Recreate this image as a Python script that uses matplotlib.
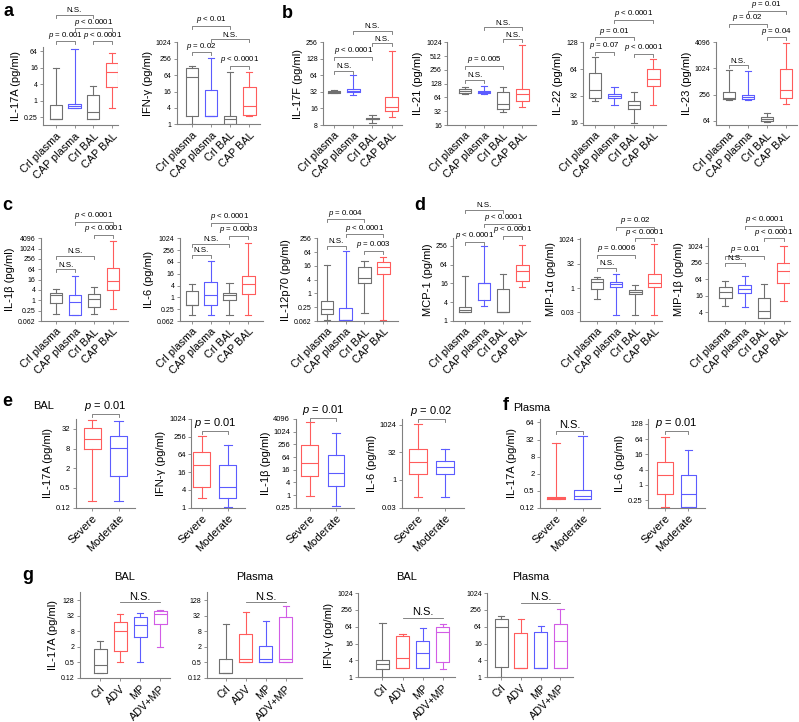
import matplotlib
matplotlib.use("Agg")
import matplotlib.pyplot as plt
from matplotlib.ticker import NullLocator
from matplotlib.transforms import blended_transform_factory

plt.rcParams['font.family'] = ['Liberation Sans', 'DejaVu Sans']
plt.rcParams['mathtext.fontset'] = 'custom'
plt.rcParams['mathtext.it'] = 'Liberation Sans:italic'
plt.rcParams['mathtext.rm'] = 'Liberation Sans'

# ---------------- data: (whisker low, Q1, median, Q3, whisker high) ----------------
groups4 = ['Crl plasma', 'CAP plasma', 'Crl BAL', 'CAP BAL']
groups_sev = ['Severe', 'Moderate']
groups_g = ['Crl', 'ADV', 'MP', 'ADV+MP']

a_il17a = [(0.21, 0.21, 0.21, 0.67, 15), (0.52, 0.52, 0.64, 0.76, 74),
           (0.21, 0.21, 0.375, 1.65, 3.3), (0.52, 3.0, 10.8, 23, 53)]
a_ifng = [(1.0, 2.1, 56, 120, 142), (2.1, 2.1, 2.1, 18, 265),
          (1.0, 1.0, 1.6, 2.0, 86), (2.0, 2.2, 4.7, 23, 86)]
b_il17f = [(30.5, 31, 32, 33, 34), (28.2, 31.3, 33.5, 36.3, 64.4),
           (8.8, 10.1, 10.3, 10.6, 12.2), (11.0, 14.6, 16.8, 26.3, 181)]
b_il21 = [(76, 80, 90, 100, 106), (75, 82, 84, 87, 114),
          (30.2, 35.7, 46.7, 84, 106), (39, 52.5, 75, 96, 891)]
b_il22 = [(28.4, 30.3, 37.3, 58, 86.8), (25.1, 30.4, 31.9, 33.6, 40.6),
          (15.7, 22.8, 25.1, 27.8, 35.4), (25.1, 41.1, 50, 64.2, 84)]
b_il23 = [(191, 206, 217, 292, 942), (191, 206, 225, 245, 890),
          (61, 64, 71, 79, 98), (155, 209, 320, 1010, 3870)]
c_il1b = [(0.16, 0.67, 2.0, 2.7, 4.4), (0.14, 0.14, 0.76, 2.0, 26),
          (0.16, 0.41, 1.14, 2.3, 5.7), (0.3, 4.0, 12.8, 77, 2750)]
c_il6 = [(0.134, 0.39, 0.39, 2.1, 4.6), (0.134, 0.42, 1.4, 6.1, 70),
         (0.134, 0.76, 1.37, 1.67, 5.6), (0.134, 1.48, 5.0, 12.9, 613)]
c_il12 = [(0.067, 0.127, 0.2, 0.46, 18.3), (0.069, 0.069, 0.069, 0.24, 71),
          (0.136, 2.76, 4.9, 14.4, 26.6), (0.067, 7.4, 15, 22.5, 41)]
d_mcp1 = [(1.86, 1.86, 2.2, 2.8, 28), (3.0, 4.5, 16, 16, 256),
          (1.86, 1.86, 1.86, 10.8, 33), (11.9, 18.5, 40, 64, 275)]
d_mip1a = [(0.2, 0.83, 2.2, 3.6, 5.0), (0.021, 1.15, 1.85, 2.5, 7.7),
           (0.021, 0.45, 0.59, 0.79, 1.46), (0.021, 1.1, 1.94, 7.7, 500)]
d_mip1b = [(6.6, 13.7, 22.7, 33.6, 55.7), (6.1, 20.9, 28.4, 38.7, 82),
           (2.55, 2.55, 4.7, 13.3, 44.4), (10.1, 48.4, 132, 253, 1024)]
e_il17a = [(0.195, 7.6, 15.4, 35.2, 57.6), (0.195, 1.19, 8.6, 19.6, 56)]
e_ifng = [(2.07, 4.9, 28, 75.6, 278), (1.03, 2.07, 4.9, 28, 131)]
e_il1b = [(0.93, 8, 33, 247, 2840), (0.29, 2.6, 11.5, 77, 885)]
e_il6 = [(0.125, 2.03, 9.1, 48, 1040), (0.125, 2.03, 4.9, 11.2, 48)]
f_il17a = [(0.245, 0.245, 0.27, 0.31, 25), (0.245, 0.245, 0.32, 0.53, 43)]
f_il6 = [(0.128, 0.42, 2.4, 8.3, 77), (0.128, 0.128, 0.42, 2.4, 23)]
g_il17a_bal = [(0.196, 0.196, 0.39, 1.58, 3.4), (0.51, 1.4, 8.3, 18.1, 38),
               (0.51, 4.9, 13.4, 28.2, 41.6), (1.88, 15.1, 38, 50, 54)]
g_il17a_pla = [(0.196, 0.196, 0.196, 0.65, 15.1), (0.51, 0.51, 0.65, 6.4, 45),
               (0.51, 0.51, 0.65, 2.1, 20.4), (0.51, 0.51, 0.65, 28.2, 75.4)]
g_ifng_bal = [(0.95, 2.0, 3.1, 4.3, 88), (2.1, 2.1, 4.7, 28.7, 36),
              (2.1, 2.1, 7.6, 20.6, 58.6), (2.04, 3.6, 40, 64, 81.6)]
g_ifng_pla = [(1, 2.27, 61.5, 125, 155), (2.1, 2.2, 2.2, 36.7, 125),
              (2.1, 2.2, 2.2, 43, 70.6), (2.1, 2.2, 19.6, 83, 284)]

t_a1 = [0.25, 1, 4, 16, 64]
t_1024 = [1, 4, 16, 64, 256, 1024]
t_il17f = [8, 16, 32, 64, 128, 256]
t_il21 = [16, 32, 64, 128, 256, 512, 1024]
t_il22 = [16, 32, 64, 128]
t_il23 = [64, 256, 1024, 4096]
t_il1b = [0.0625, 0.25, 1, 4, 16, 64, 256, 1024, 4096]
t_il6 = [0.0625, 0.25, 1, 4, 16, 64, 256, 1024]
t_il12 = [0.0625, 0.25, 1, 4, 16, 64, 256]
t_mcp1 = [1, 4, 16, 64, 256]
t_mip1a = [1 / 32, 1, 32, 1024]
t_mip1b = [4, 16, 64, 256, 1024]
t_e17 = [0.125, 0.5, 2, 8, 32]
t_e1b = [0.25, 1, 4, 16, 64, 256, 1024, 4096]
t_f17 = [0.125, 0.5, 2, 8, 32, 128]
l_f17 = ['0.12', '0.5', '2', '8', '32', '64']
t_f6 = [0.25, 1, 4, 16, 64, 256]
l_f6 = ['0.25', '1', '4', '16', '64', '128']
t_g17 = [0.125, 0.5, 2, 8, 32, 128]


def lab(ticks):
    out = []
    for t in ticks:
        if t == 0.0625:
            out.append('0.062')
        elif t == 1 / 32:
            out.append('0.03')
        elif t == 0.125:
            out.append('0.12')
        else:
            out.append('%g' % t)
    return out


GRAY, RED, BLUE, MAG = '#707070', '#ff5c5c', '#5c5cff', '#d25ce6'
C4 = [GRAY, BLUE, GRAY, RED]
C2 = [RED, BLUE]
CG = [GRAY, RED, BLUE, MAG]

W, H = 799, 722
fig = plt.figure(figsize=(W / 100, H / 100), dpi=100)


def bracket(ax, i, j, y_px, text, fs, ends=True):
    tr = blended_transform_factory(ax.transData, fig.transFigure)
    yf = 1 - y_px / H
    d = 3.0 / H if ends else 0
    ax.plot([i, i, j, j], [yf - d, yf, yf, yf - d], transform=tr,
            color='#707070', lw=0.6, clip_on=False)
    ax.text((i + j) / 2, yf + 0.6 / H, text, transform=tr, ha='center',
            va='bottom', fontsize=fs)


def panel(rect, data, names, colors, ylim, yticks, ylabel, xlim,
          brackets, yticklabels=None, bfs=5.7, tfs=5, xfs=7.8, ends=True):
    l, r, t, b = rect
    ax = fig.add_axes([l / W, 1 - b / H, (r - l) / W, (b - t) / H])
    ax.set_yscale('log', base=2)
    for k, (s, c) in enumerate(zip(data, colors)):
        st = dict(whislo=s[0], q1=s[1], med=s[2], q3=s[3], whishi=s[4], fliers=[])
        props = dict(color=c, lw=0.8)
        ax.bxp([st], positions=[k + 1], widths=0.65, capwidths=[0.32],
               showfliers=False, boxprops=props, whiskerprops=props,
               capprops=props, medianprops=props)
    ax.set_ylim(*ylim)
    ax.set_xlim(*xlim)
    ax.set_yticks(yticks)
    ax.set_yticklabels(yticklabels if yticklabels else lab(yticks), fontsize=tfs)
    ax.yaxis.set_minor_locator(NullLocator())
    ax.set_xticks(range(1, len(names) + 1))
    ax.set_xticklabels(names, rotation=45, ha='right', rotation_mode='anchor',
                       fontsize=xfs)
    if ylabel:
        ax.set_ylabel(ylabel, fontsize=8, labelpad=2)
    for sp in ['top', 'right']:
        ax.spines[sp].set_visible(False)
    for sp in ['left', 'bottom']:
        ax.spines[sp].set_color('#808080')
        ax.spines[sp].set_linewidth(0.8)
    ax.tick_params(length=2.5, width=0.6, color='#808080', pad=1.5)
    for (i, j, txt, y) in brackets:
        bracket(ax, i, j, y, txt, bfs, ends)
    return ax


P = '$p$'
# row a / b
panel((43.3, 118.3, 47, 125.3), a_il17a, groups4, C4, (0.125, 90), t_a1,
      'IL-17A (pg/ml)', (0.34, 4.33),
      [(1, 2, P + ' = 0.001', 41.3), (3, 4, P + ' < 0.0001', 41.3),
       (2, 4, P + ' < 0.0001', 28.3), (1, 3, 'N.S.', 14.7)])
panel((176.7, 260, 42.3, 124.3), a_ifng, groups4, C4, (1, 1024), t_1024,
      'IFN-γ (pg/ml)', (0.19, 4.56),
      [(1, 2, P + ' = 0.02', 52.3), (3, 4, P + ' < 0.0001', 65.7),
       (2, 4, 'N.S.', 39.3), (1, 3, P + ' < 0.01', 26)])
panel((323.3, 401.7, 42.3, 125), b_il17f, groups4, C4, (8, 256), t_il17f,
      'IL-17F (pg/ml)', (0.44, 4.52),
      [(1, 2, 'N.S.', 71), (1, 3, P + ' < 0.0001', 57),
       (3, 4, 'N.S.', 43.3), (2, 4, 'N.S.', 31)])
panel((447.3, 535.7, 42.3, 125), b_il21, groups4, C4, (16, 1024), t_il21,
      'IL-21 (pg/ml)', (0.07, 4.7),
      [(1, 2, 'N.S.', 80), (1, 3, P + ' = 0.005', 66),
       (3, 4, 'N.S.', 39.3), (2, 4, 'N.S.', 27.3)])
panel((583.3, 665.7, 42.3, 125), b_il22, groups4, C4, (15.1, 128), t_il22,
      'IL-22 (pg/ml)', (0.4, 4.64),
      [(1, 2, P + ' = 0.07', 52), (3, 4, P + ' < 0.0001', 54),
       (1, 3, P + ' = 0.01', 37.3), (2, 4, P + ' < 0.0001', 20)])
panel((716, 796.7, 42.3, 125), b_il23, groups4, C4, (50.8, 4096), t_il23,
      'IL-23 (pg/ml)', (0.33, 4.58),
      [(1, 2, 'N.S.', 65.3), (3, 4, P + ' = 0.04', 37.3),
       (1, 3, P + ' = 0.02', 24), (2, 4, P + ' = 0.01', 10.5)])

# row c / d
panel((41, 128.3, 238.3, 321), c_il1b, groups4, C4, (0.0625, 4096), t_il1b,
      'IL-1β (pg/ml)', (0.19, 4.83),
      [(1, 2, 'N.S.', 269.3), (1, 3, 'N.S.', 256),
       (3, 4, P + ' < 0.0001', 234.7), (2, 4, P + ' < 0.0001', 221.7)])
panel((180, 263.3, 238.3, 321), c_il6, groups4, C4, (0.0625, 1024), t_il6,
      'IL-6 (pg/ml)', (0.38, 4.79),
      [(1, 2, 'N.S.', 255), (1, 3, 'N.S.', 243.7),
       (3, 4, P + ' = 0.0003', 235.7), (2, 4, P + ' < 0.0001', 223)])
panel((316.7, 398.3, 238.3, 321), c_il12, groups4, C4, (0.0625, 256), t_il12,
      'IL-12p70 (pg/ml)', (0.47, 4.79),
      [(1, 2, 'N.S.', 245.7), (3, 4, P + ' = 0.003', 250.7),
       (2, 4, P + ' < 0.0001', 234.3), (1, 3, P + ' = 0.004', 219.3)])
panel((453.3, 530, 238, 320.7), d_mcp1, groups4, C4, (1, 460), t_mcp1,
      'MCP-1 (pg/ml)', (0.39, 4.4),
      [(1, 2, P + ' < 0.0001', 241.7), (3, 4, P + ' < 0.0001', 236),
       (2, 4, P + ' < 0.0001', 223.7), (1, 3, 'N.S.', 210)])
panel((580, 662, 238, 320.7), d_mip1a, groups4, C4, (0.0096, 1234), t_mip1a,
      'MIP-1α (pg/ml)', (0.1, 4.4),
      [(1, 2, 'N.S.', 267.7), (1, 3, P + ' = 0.0006', 255),
       (3, 4, P + ' < 0.0001', 238.3), (2, 4, P + ' = 0.02', 226.7)])
panel((708.3, 790, 238, 320.7), d_mip1b, groups4, C4, (2, 2048), t_mip1b,
      'MIP-1β (pg/ml)', (0.12, 4.33),
      [(1, 2, 'N.S.', 263), (1, 3, P + ' = 0.01', 256),
       (3, 4, P + ' < 0.0001', 238.3), (2, 4, P + ' < 0.0001', 225.7)])

# row e / f
ekw = dict(bfs=8, tfs=5.5, xfs=8)
panel((75.8, 134.7, 419, 507.7), e_il17a, groups_sev, C2, (0.125, 64), t_e17,
      'IL-17A (pg/ml)', (0.38, 2.61), [(1, 2, P + ' = 0.01', 414)], **ekw)
panel((191.4, 245, 419, 507.7), e_ifng, groups_sev, C2, (1, 1024), t_1024,
      'IFN-γ (pg/ml)', (0.6, 2.66), [(1, 2, P + ' = 0.01', 430.7)], **ekw)
panel((295.8, 354, 419, 507.7), e_il1b, groups_sev, C2, (0.25, 4096), t_e1b,
      'IL-1β (pg/ml)', (0.46, 2.69), [(1, 2, P + ' = 0.01', 417.7)], **ekw)
panel((401.8, 463.8, 419, 507.7), e_il6, groups_sev, C2, (1 / 32, 2048), t_mip1a,
      'IL-6 (pg/ml)', (0.39, 2.7), [(1, 2, P + ' = 0.02', 419)], **ekw)
panel((540, 600, 419, 507.7), f_il17a, groups_sev, C2, (0.125, 170), t_f17,
      'IL-17A (pg/ml)', (0.4, 2.65), [(1, 2, 'N.S.', 431)],
      yticklabels=l_f17, **ekw)
panel((648.3, 705, 419, 507.7), f_il6, groups_sev, C2, (0.125, 400), t_f6,
      'IL-6 (pg/ml)', (0.28, 2.72), [(1, 2, P + ' = 0.01', 431)],
      yticklabels=l_f6, **ekw)

# row g
gkw = dict(bfs=8, tfs=5, xfs=7.8, ends=False)
g1 = panel((80, 170, 592.3, 677.7), g_il17a_bal, groups_g, CG, (0.125, 256), t_g17,
           'IL-17A (pg/ml)', (0.0, 4.5), [(2, 4, 'N.S.', 602.3)], **gkw)
g2 = panel((206.7, 301.7, 592.3, 677.7), g_il17a_pla, groups_g, CG, (0.125, 256), t_g17,
           None, (0.05, 4.8), [(2, 4, 'N.S.', 602.3)], **gkw)
g3 = panel((358.3, 455, 593, 677.3), g_ifng_bal, groups_g, CG, (1, 1024), t_1024,
           'IFN-γ (pg/ml)', (-0.2, 4.6), [(2, 4, 'N.S.', 617.7)], **gkw)
g4 = panel((487.3, 573.3, 593, 677.3), g_ifng_pla, groups_g, CG, (1, 1024), t_1024,
           None, (0.3, 4.65), [(2, 4, 'N.S.', 602.7)], **gkw)
for ax, title in [(g1, 'BAL'), (g2, 'Plasma'), (g3, 'BAL'), (g4, 'Plasma')]:
    ax.set_title(title, fontsize=8, pad=9)

# panel letters and group captions
for letter, x, y in [('a', 3, 12), ('b', 282, 14), ('c', 2, 205), ('d', 414, 205),
                     ('e', 2, 402), ('f', 503, 405), ('g', 22, 576)]:
    fig.text(x / W, 1 - y / H, letter, fontsize=13, fontweight='bold', va='center')
fig.text(33 / W, 1 - 406 / H, 'BAL', fontsize=8, va='center')
fig.text(513 / W, 1 - 408 / H, 'Plasma', fontsize=8, va='center')

fig.savefig('out.png', dpi=100)
